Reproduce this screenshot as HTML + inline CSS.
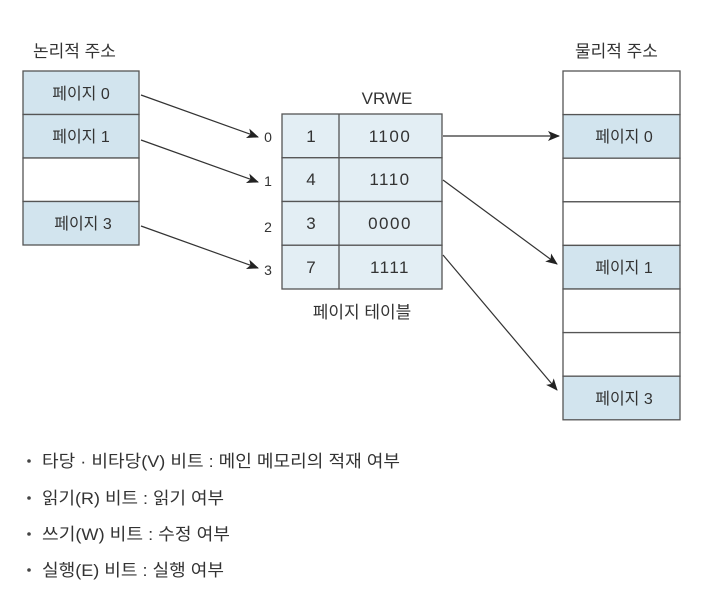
<!DOCTYPE html>
<html><head><meta charset="utf-8"><style>
html,body{margin:0;padding:0;background:#fff;}
svg{display:block;}
text{font-family:"Liberation Sans","Noto Sans CJK KR",sans-serif;fill:#333;}
</style></head><body>
<svg width="723" height="599" viewBox="0 0 723 599" xmlns="http://www.w3.org/2000/svg">
<defs><marker id="a" viewBox="0 0 12 10" refX="11" refY="5" markerWidth="13" markerHeight="10" markerUnits="userSpaceOnUse" orient="auto"><path d="M0,0 L12,5 L0,10 L3,5 z" fill="#222"/></marker></defs>
<g font-size="17">
<text x="33" y="57">논리적 주소</text>
<text x="575" y="57">물리적 주소</text>
</g>
<g stroke="#555" stroke-width="1.3">
<rect x="23" y="71" width="116" height="43.5" fill="#d2e4ee"/>
<rect x="23" y="114.5" width="116" height="43.5" fill="#d2e4ee"/>
<rect x="23" y="158" width="116" height="43.5" fill="#fff"/>
<rect x="23" y="201.5" width="116" height="43.5" fill="#d2e4ee"/>
</g>
<g font-size="16" text-anchor="middle">
<text x="81" y="99">페이지 0</text>
<text x="81" y="142">페이지 1</text>
<text x="83" y="229">페이지 3</text>
</g>
<g stroke="#555" stroke-width="1.3" fill="#e3eef4">
<rect x="282" y="114" width="160" height="43.75"/>
<rect x="282" y="157.75" width="160" height="43.75"/>
<rect x="282" y="201.5" width="160" height="43.75"/>
<rect x="282" y="245.25" width="160" height="43.75"/>
<line x1="339" y1="114" x2="339" y2="289"/>
</g>
<g font-size="17" text-anchor="middle">
<text x="387" y="104">VRWE</text>
<text x="311" y="142">1</text><text x="390" y="142" letter-spacing="1.5">1100</text>
<text x="311" y="185">4</text><text x="390" y="185" letter-spacing="1.5">1110</text>
<text x="311" y="229">3</text><text x="390" y="229" letter-spacing="1.5">0000</text>
<text x="311" y="273">7</text><text x="390" y="273" letter-spacing="1.5">1111</text>
<text x="362" y="318">페이지 테이블</text>
</g>
<g font-size="14" text-anchor="middle" fill="#444">
<text x="268" y="142">0</text>
<text x="268" y="186">1</text>
<text x="268" y="232">2</text>
<text x="268" y="275">3</text>
</g>
<g stroke="#555" stroke-width="1.3">
<rect x="563" y="71" width="117" height="43.6" fill="#fff"/>
<rect x="563" y="114.6" width="117" height="43.6" fill="#d2e4ee"/>
<rect x="563" y="158.2" width="117" height="43.6" fill="#fff"/>
<rect x="563" y="201.8" width="117" height="43.6" fill="#fff"/>
<rect x="563" y="245.4" width="117" height="43.6" fill="#d2e4ee"/>
<rect x="563" y="289" width="117" height="43.6" fill="#fff"/>
<rect x="563" y="332.6" width="117" height="43.6" fill="#fff"/>
<rect x="563" y="376.2" width="117" height="43.6" fill="#d2e4ee"/>
</g>
<g font-size="16" text-anchor="middle">
<text x="624" y="142">페이지 0</text>
<text x="624" y="273">페이지 1</text>
<text x="624" y="404">페이지 3</text>
</g>
<g stroke="#333" stroke-width="1.2" fill="none" marker-end="url(#a)">
<line x1="141" y1="95" x2="258" y2="137"/>
<line x1="141" y1="140" x2="258" y2="182"/>
<line x1="141" y1="226" x2="258" y2="268"/>
<line x1="443" y1="136" x2="559" y2="136"/>
<line x1="443" y1="180" x2="557" y2="264"/>
<line x1="443" y1="255" x2="557" y2="390"/>
</g>
<g font-size="17">
<circle cx="29" cy="461" r="1.8" fill="#444"/>
<text x="42" y="467" textLength="358" lengthAdjust="spacingAndGlyphs">타당 · 비타당(V) 비트 : 메인 메모리의 적재 여부</text>
<circle cx="29" cy="498" r="1.8" fill="#444"/>
<text x="42" y="504" textLength="182" lengthAdjust="spacingAndGlyphs">읽기(R) 비트 : 읽기 여부</text>
<circle cx="29" cy="534" r="1.8" fill="#444"/>
<text x="42" y="540" textLength="188" lengthAdjust="spacingAndGlyphs">쓰기(W) 비트 : 수정 여부</text>
<circle cx="29" cy="570" r="1.8" fill="#444"/>
<text x="42" y="576" textLength="182" lengthAdjust="spacingAndGlyphs">실행(E) 비트 : 실행 여부</text>
</g>
</svg>
</body></html>
